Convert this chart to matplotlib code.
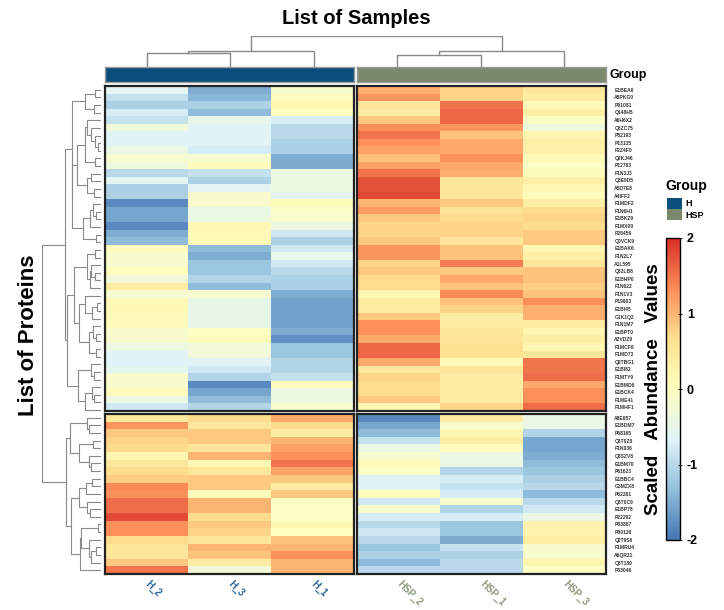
# Clustered heatmap of scaled protein abundances (H vs HSP samples)
import numpy as np
import matplotlib.pyplot as plt
from matplotlib.colors import LinearSegmentedColormap, ListedColormap
from matplotlib.patches import Patch

plt.rcParams['font.family'] = ['Liberation Sans', 'DejaVu Sans']
plt.rcParams['axes.unicode_minus'] = False

samples = ['H_2', 'H_3', 'H_1', 'HSP_2', 'HSP_1', 'HSP_3']
groups = ['H', 'H', 'H', 'HSP', 'HSP', 'HSP']
group_names = ['H', 'HSP']
group_colors = ['#0a4f7b', '#7b886b']
label_colors = {'H': '#2d6798', 'HSP': '#8d9a80'}

proteins_up = ['E1BEA6', 'A5PKG0', 'P01081', 'Q148H5', 'A6H6X2', 'Q3ZC75', 'P52193',
               'P13135', 'F2Z4F0', 'Q2KJ46', 'P12763', 'F1N3J3', 'Q8E9D5', 'A5D7E8',
               'A4IFF2', 'F1MDF2', 'F1N6H1', 'E1BKZ9', 'F1MX00', 'P28456', 'Q0VCK9',
               'E1BAK6', 'F1N2L7', 'A1L595', 'Q32LB8', 'E1BHP0', 'F1N622', 'F1N1V3',
               'P19803', 'E1BI45', 'G1K1Q2', 'F1N1M7', 'E1BPT0', 'A2VDZ9', 'F1MCF8',
               'F1MD73', 'Q2TBG1', 'E1BI82', 'F1MTY9', 'E1BMD6', 'E1BCK4', 'F1ME41',
               'F1MHF1']
proteins_down = ['A8E657', 'E1BDM7', 'P68165', 'Q3T0Z0', 'F1N036', 'Q3SZV8', 'E1BM70',
                 'P61623', 'E1BBC4', 'G3MZX8', 'P62261', 'Q3T0C9', 'E1BP78', 'P22292',
                 'P03887', 'P00126', 'Q2T9S6', 'F1MRU4', 'A6QR21', 'Q3T189', 'P33046']
proteins = proteins_up + proteins_down

# scaled abundance per sample (rows in the order of the protein list)
h_2 = [-0.6, -0.9, -1.1, -0.75, -0.9, -0.3, -0.65, -0.65, -0.45, -0.2, -0.35, -1.0, -0.6,
       -1.1, -1.1, -1.8, -1.55,
       -1.55, -1.8, -1.5, -1.35, 0.05, -0.15, -0.15, 0.0, -0.3, 0.4, -0.2, 0.1, 0.15, 0.05,
       0.05, -0.15,
       -0.15, -0.4, -0.65, -0.65, -0.55, -0.15, -0.15, 0.05, -0.4, -0.8,
       0.45, 1.25, 0.85, 0.75, 0.7, 0.2, 0.5, 0.7, 0.8, 1.35, 1.3, 1.55, 1.55, 1.8, 1.3,
       1.3, 0.7, 0.5, 0.5, 0.85, 1.5]
h_3 = [-1.5, -1.4, -1.1, -1.35, -0.5, -0.65, -0.65, -0.65, -0.75, -0.2, 0.05, -0.9, -1.1,
       -0.6, -0.15, -0.15, -0.45,
       -0.4, 0.15, 0.1, 0.1, -1.35, -1.5, -1.25, -1.25, -1.05, -1.35, -0.2, -0.5, -0.5,
       -0.5, -0.5, -0.05,
       0.05, -0.3, -0.3, -0.65, -0.8, -1.05, -1.8, -1.55, -1.35, -1.05,
       0.7, 0.5, 0.85, 0.85, 0.55, 1.0, 0.15, 0.5, 0.85, 0.85, 0.05, 1.0, 1.0, 0.7, 0.85,
       0.75, 0.5, 1.0, 0.9, 0.4, -0.3]
h_1 = [-0.15, 0.05, 0.15, 0.0, -0.75, -1.0, -1.0, -1.1, -1.1, -1.5, -1.5, -0.4, -0.4,
       -0.4, -0.6, 0.05, -0.1,
       -0.15, -0.4, -0.8, -1.1, -0.8, -0.45, -0.8, -1.0, -1.1, -1.1, -1.5, -1.6, -1.6,
       -1.6, -1.6, -1.5,
       -1.75, -1.25, -1.25, -1.05, -1.05, -0.9, 0.05, -0.4, -0.4, -0.15,
       1.1, 0.7, 0.4, 1.0, 1.15, 1.3, 1.5, 1.15, 0.85, 0.4, 0.85, -0.05, -0.05, -0.05,
       0.15, 0.0, 0.9, 1.0, 1.3, 1.0, 1.0]
hsp_2 = [1.05, 1.25, 0.5, 0.4, 0.85, 1.3, 1.5, 1.3, 1.15, 0.9, 1.15, 1.5, 1.75, 1.75,
         1.8, 1.0, 1.2,
         0.85, 0.75, 0.75, 0.85, 1.25, 1.25, 0.75, 0.85, 0.7, 0.7, 0.2, 0.4, 0.4, 0.85,
         1.3, 1.3,
         1.1, 1.6, 1.6, 1.1, 0.5, 0.75, 0.7, 0.7, 0.85, 0.2,
         -1.8, -1.55, -1.35, -0.9, -0.45, -0.15, 0.05, -0.05, -0.65, -0.65, 0.05, -0.8,
         -0.15, -0.75, -1.0, -0.8, -1.0, -1.25, -1.1, -1.35, -1.0]
hsp_1 = [0.75, 0.75, 1.5, 1.6, 1.6, 1.25, 0.9, 1.1, 1.1, 1.3, 1.1, 1.05, 0.5, 0.5, 0.5,
         0.85, 0.6,
         0.7, 0.75, 0.75, 0.55, 0.9, 0.9, 1.45, 0.85, 1.1, 0.9, 1.35, 0.9, 0.75, 0.4,
         0.4, 0.5,
         0.55, 0.65, 0.65, 0.1, 0.5, 0.4, 0.4, 0.4, 0.4, 0.75,
         0.4, -0.15, 0.2, 0.35, 0.05, -0.45, -0.45, -1.05, -0.75, -0.9, -0.75, -0.15,
         -1.05, -0.75, -1.25, -1.25, -1.5, -0.9, -1.1, -1.0, -1.0]
hsp_3 = [0.5, 0.4, 0.1, 0.35, -0.05, -0.35, 0.25, 0.35, 0.3, 0.1, -0.05, 0.05, 0.35, 0.2,
         0.05, 0.35, 0.7,
         0.75, 0.7, 0.85, 0.85, 0.2, 0.35, 0.5, 0.9, 0.9, 0.8, 0.9, 1.3, 1.05, 1.05, 0.4,
         0.2,
         0.35, 0.2, 0.5, 1.5, 1.5, 1.55, 1.1, 1.3, 1.3, 1.55,
         -0.45, -0.45, -1.05, -1.55, -1.55, -1.5, -1.35, -1.25, -1.1, -1.0, -1.35, -1.0,
         -0.8, -0.45, 0.25, 0.25, 0.35, -0.15, -0.15, 0.2, -0.05]

values = np.column_stack([h_2, h_3, h_1, hsp_2, hsp_1, hsp_3])
n_rows, n_cols = values.shape
row_cut = len(proteins_up)
col_cut = groups.count('H')

# pheatmap default palette
cmap = LinearSegmentedColormap.from_list(
    'rdylbu', ['#4575B4', '#91BFDB', '#E0F3F8', '#FFFFBF', '#FEE090', '#FC8D59', '#D73027'])
vmin, vmax = -2, 2


def ordered_linkage(X):
    """Complete linkage that only joins neighbours, so the tree fits the drawn order."""
    members = [[i] for i in range(len(X))]
    pos = [i + 0.5 for i in range(len(X))]
    hgt = [0.0] * len(X)
    links = []
    while len(members) > 1:
        dists = []
        for k in range(len(members) - 1):
            a, b = X[members[k]], X[members[k + 1]]
            d = np.sqrt(((a[:, None, :] - b[None, :, :]) ** 2).sum(-1)).max()
            dists.append(d)
        k = int(np.argmin(dists))
        h = max(dists[k], hgt[k], hgt[k + 1])
        links.append((pos[k], hgt[k], pos[k + 1], hgt[k + 1], h))
        members[k:k + 2] = [members[k] + members[k + 1]]
        pos[k:k + 2] = [(pos[k] + pos[k + 1]) / 2]
        hgt[k:k + 2] = [h]
    return links, hgt[0]


W, H = 724, 610
fig = plt.figure(figsize=(W / 100, H / 100), dpi=100)


def box(x0, y0, x1, y1):
    return [x0 / W, 1 - y1 / H, (x1 - x0) / W, (y1 - y0) / H]


xs = [(105, 354), (357, 606)]
ys = [(86, 411), (414, 574)]
row_sl = [slice(0, row_cut), slice(row_cut, n_rows)]
col_sl = [slice(0, col_cut), slice(col_cut, n_cols)]

for i in range(2):
    for j in range(2):
        ax = fig.add_axes(box(xs[j][0], ys[i][0], xs[j][1], ys[i][1]))
        block = values[row_sl[i], col_sl[j]]
        mesh = ax.pcolormesh(block, cmap=cmap, vmin=vmin, vmax=vmax)
        ax.set_xlim(0, block.shape[1])
        ax.set_ylim(block.shape[0], 0)
        for s in ax.spines.values():
            s.set_linewidth(1.6)
            s.set_color('#222222')
        ax.set_xticks([])
        if j == 1:
            ax.yaxis.tick_right()
            ax.set_yticks(np.arange(block.shape[0]) + 0.5)
            ax.set_yticklabels(proteins[row_sl[i]], fontsize=3.6, fontweight='bold',
                               color='#333333')
            ax.tick_params(axis='y', length=0, pad=6)
        else:
            ax.set_yticks([])
        if i == 1:
            names = samples[col_sl[j]]
            ax.set_xticks(np.arange(len(names)) + 0.5)
            ax.set_xticklabels(names)
            ax.tick_params(axis='x', length=0, pad=6)
            for lab, name in zip(ax.get_xticklabels(), names):
                lab.set_rotation(-45)
                lab.set_rotation_mode('anchor')
                lab.set_ha('left')
                lab.set_va('center')
                lab.set_fontsize(7)
                lab.set_fontweight('bold')
                lab.set_color(label_colors[groups[samples.index(name)]])

# group annotation bar
group_cmap = ListedColormap(group_colors)
codes = np.array([[group_names.index(g) for g in groups]])
for j in range(2):
    ax = fig.add_axes(box(xs[j][0], 67, xs[j][1], 82))
    ax.pcolormesh(codes[:, col_sl[j]], cmap=group_cmap, vmin=-0.5, vmax=1.5)
    ax.set_xticks([])
    ax.set_yticks([])
    for s in ax.spines.values():
        s.set_color('#9a9a9a')
        s.set_linewidth(1.0)
fig.text(609 / W, 1 - 75 / H, 'Group', fontsize=9, fontweight='bold',
         va='center', ha='left')

# column dendrogram, leaves over the column centres
links, top = ordered_linkage(values.T)
ax = fig.add_axes(box(105, 36, 606, 67))
for x0, h0, x1, h1, h in links:
    ax.plot([x0, x0, x1, x1], [h0, h, h, h1], color='#8a8a8a', lw=1.0)
ax.set_xlim(0, n_cols)
ax.set_ylim(0, top)
ax.axis('off')

# row dendrogram
links, top = ordered_linkage(values)
ax = fig.add_axes(box(42, 86, 101, 574))
for y0, h0, y1, h1, h in links:
    ax.plot([h0, h, h, h1], [y0, y0, y1, y1], color='#8a8a8a', lw=0.8)
ax.set_ylim(n_rows, 0)
ax.set_xlim(top, 0)
ax.axis('off')

fig.text(356 / W, 1 - 19 / H, 'List of Samples', fontsize=14.5, fontweight='bold',
         ha='center', va='center')
fig.text(29 / W, 1 - 335 / H, 'List of Proteins', fontsize=16, fontweight='bold',
         ha='center', va='center', rotation=90)

# group legend
fig.text(665 / W, 1 - 186 / H, 'Group', fontsize=10, fontweight='bold',
         ha='left', va='center')
handles = [Patch(facecolor=c, edgecolor='none', label=g)
           for g, c in zip(group_names, group_colors)]
fig.legend(handles=handles, loc='upper left', bbox_to_anchor=(667 / W, 1 - 198 / H),
           frameon=False, prop={'weight': 'bold', 'size': 6.5},
           handlelength=1.7, handleheight=1.5, handletextpad=0.3,
           labelspacing=0.05, borderpad=0, borderaxespad=0)

# colour bar
cax = fig.add_axes(box(666, 238, 680, 540))
cb = fig.colorbar(mesh, cax=cax, ticks=[-2, -1, 0, 1, 2])
cb.outline.set_linewidth(1.0)
cax.tick_params(labelsize=9, length=3, width=0.6, direction='inout')
for lab in cax.get_yticklabels():
    lab.set_fontweight('bold')
cax.yaxis.set_label_position('left')
cax.set_ylabel('Scaled   Abundance   Values', fontsize=13.5, fontweight='bold', labelpad=3)

fig.savefig('out.png', dpi=100)
